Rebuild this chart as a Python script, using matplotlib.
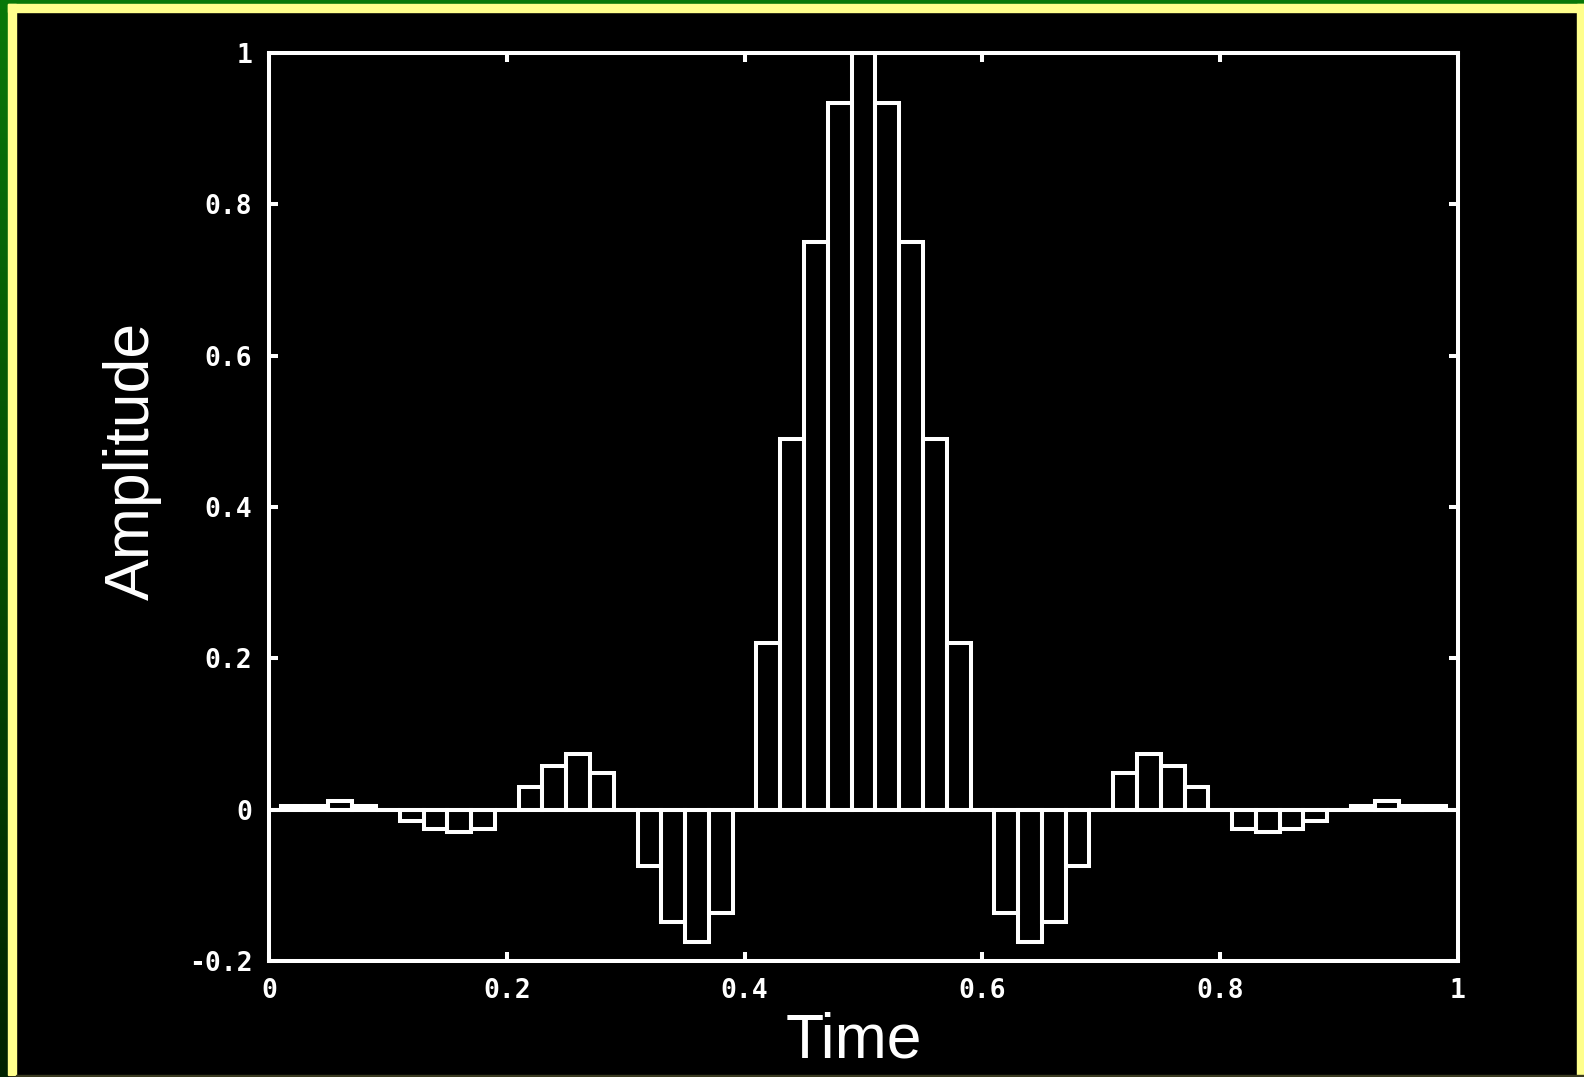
import numpy as np
import matplotlib
matplotlib.use('Agg')
import matplotlib.pyplot as plt
from matplotlib.patches import Rectangle

# sample times (box centres) and amplitudes
time = [0.00, 0.02, 0.04, 0.06, 0.08, 0.10, 0.12, 0.14, 0.16, 0.18,
        0.20, 0.22, 0.24, 0.26, 0.28, 0.30, 0.32, 0.34, 0.36, 0.38,
        0.40, 0.42, 0.44, 0.46, 0.48, 0.50, 0.52, 0.54, 0.56, 0.58,
        0.60, 0.62, 0.64, 0.66, 0.68, 0.70, 0.72, 0.74, 0.76, 0.78,
        0.80, 0.82, 0.84, 0.86, 0.88, 0.90, 0.92, 0.94, 0.96, 0.98, 1.00]
amplitude = [0.0, 0.005, 0.005, 0.011, 0.005, 0.0, -0.015, -0.025, -0.029, -0.025,
             0.0, 0.030, 0.058, 0.074, 0.049, 0.0, -0.074, -0.148, -0.175, -0.137,
             0.0, 0.220, 0.490, 0.750, 0.934, 1.0, 0.934, 0.750, 0.490, 0.220,
             0.0, -0.137, -0.175, -0.148, -0.074, 0.0, 0.049, 0.074, 0.058, 0.030,
             0.0, -0.025, -0.029, -0.025, -0.015, 0.0, 0.005, 0.011, 0.005, 0.005, 0.0]

xticks = [0, 0.2, 0.4, 0.6, 0.8, 1]
xtick_labels = ['0', '0.2', '0.4', '0.6', '0.8', '1']
yticks = [-0.2, 0, 0.2, 0.4, 0.6, 0.8, 1]
ytick_labels = ['-0.2', '0', '0.2', '0.4', '0.6', '0.8', '1']

W, H = 1584, 1077
fig = plt.figure(figsize=(W / 100, H / 100), dpi=100, facecolor='black')

# slide frame: green bevel top/left, pale yellow inner border
def px_rect(x0, y0, w, h, color):
    # pixel coords measured from top-left
    fig.patches.append(Rectangle((x0 / W, 1 - (y0 + h) / H), w / W, h / H,
                                 transform=fig.transFigure, color=color, zorder=0))

yellow = '#ffff8c'
px_rect(0, 0, W, 4, '#087808')
px_rect(8, 4, W - 8, 8, yellow)
px_rect(8, 4, 8, H - 6, yellow)
px_rect(1577, 4, 7, H - 6, yellow)
px_rect(16, H - 2, W - 16, 2, '#3a3a20')

strip = fig.add_axes([0, 0, 8 / W, 1 - 4 / H])
strip.imshow(np.linspace(0, 1, 200).reshape(-1, 1), aspect='auto',
             cmap=matplotlib.colors.LinearSegmentedColormap.from_list('g', ['#087808', '#002200']))
strip.axis('off')

lw = 2.9
ax = fig.add_axes([269 / W, (H - 961) / H, (1458 - 269) / W, (961 - 53) / H])
ax.set_facecolor('black')
ax.bar(time, amplitude, width=0.02, fill=False, edgecolor='white', linewidth=lw,
       joinstyle='miter', zorder=3)
ax.axhline(0, color='white', linewidth=lw, zorder=3)

ax.set_xlim(0, 1)
ax.set_ylim(-0.2, 1)
for s in ax.spines.values():
    s.set_color('white')
    s.set_linewidth(lw)
    s.set_zorder(4)

tick_font = dict(family='DejaVu Sans Mono', weight='bold', size=19)
ax.set_xticks(xticks)
ax.set_xticklabels(xtick_labels, **tick_font)
ax.set_yticks(yticks)
ax.set_yticklabels(ytick_labels, **tick_font)
ax.tick_params(direction='in', length=6.5, width=lw, color='white', labelcolor='white',
               top=True, right=True, pad=12)

fig.text(854 / W, (H - 1057) / H, 'Time', color='white', family='Liberation Sans',
         size=45, ha='center', va='baseline')
fig.text(132 / W, (H - 461) / H, 'Amplitude', color='white', family='Liberation Sans',
         size=45, rotation=90, ha='center', va='center')

fig.savefig('out.png', dpi=100, facecolor='black')
